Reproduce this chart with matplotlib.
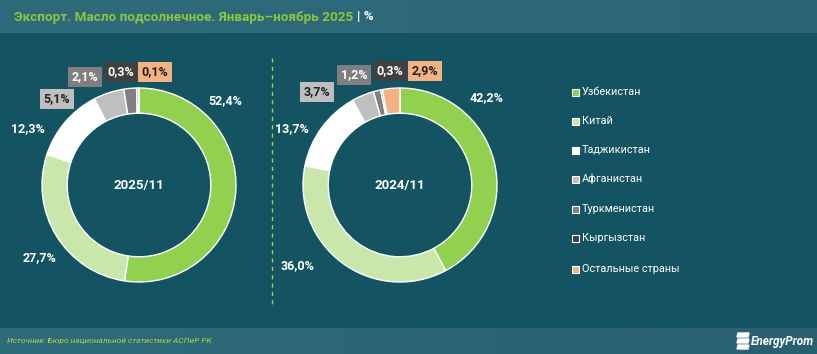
import matplotlib.pyplot as plt
from matplotlib.patches import Rectangle, Polygon
from matplotlib.colors import LinearSegmentedColormap
import numpy as np

# data
countries = ['Узбекистан', 'Китай', 'Таджикистан', 'Афганистан',
             'Туркменистан', 'Кыргызстан', 'Остальные страны']
share_2025 = [52.4, 27.7, 12.3, 5.1, 2.1, 0.3, 0.1]
share_2024 = [42.2, 36.0, 13.7, 3.7, 1.2, 0.3, 2.9]
period_2025 = '2025/11'
period_2024 = '2024/11'
colors = ['#92D050', '#C9E7AB', '#FFFFFF', '#BFBFBF', '#7F7F7F', '#404040', '#F4B183']
box_text = ['white', 'white', 'white', '#222222', 'white', 'white', '#222222']

bg = '#145462'
plt.rcParams['font.family'] = ['Roboto', 'DejaVu Sans']

fig = plt.figure(figsize=(8.17, 3.54), dpi=100)
fig.patch.set_facecolor(bg)
ax = fig.add_axes([0, 0, 1, 1])
ax.set_facecolor(bg)

W, H = 817, 354


def py(y):
    # pixel row (top down) -> data y
    return H - y


# title and footer bars
grad = np.linspace(0, 1, 200).reshape(1, -1)
cm_bar = LinearSegmentedColormap.from_list('bar', ['#2F6C7B', '#2B6675'])
cm_foot = LinearSegmentedColormap.from_list('foot', ['#2E6C7C', '#29606F'])
ax.imshow(grad, extent=(0, W, py(33), py(0)), cmap=cm_bar, aspect='auto', zorder=0)
ax.imshow(grad, extent=(0, W, py(354), py(328)), cmap=cm_foot, aspect='auto', zorder=0)

title = ax.text(14, py(17), 'Экспорт. Масло подсолнечное. Январь–ноябрь 2025', color='#8CC63F',
                fontsize=9.7, fontweight='bold', va='center', ha='left')
ax.annotate('| %', xy=(1, 0.5), xycoords=title, xytext=(3, 0), textcoords='offset points',
            color='white', fontsize=9.7, fontweight='bold', va='center', ha='left')

ax.text(7, py(341), 'Источник: Бюро национальной статистики АСПиР РК', color='#B0D24A',
        fontsize=6.0, fontstyle='italic', va='center', ha='left')

# logo
for k in range(3):
    y0 = 333 + k * 6
    ax.add_patch(Polygon([(738, py(y0)), (749, py(y0)), (748, py(y0 + 4)), (737, py(y0 + 4))],
                         closed=True, color='white', zorder=3))
ax.text(751, py(342), 'EnergyProm', color='white', fontsize=8.5, fontweight='bold',
        fontstyle='italic', va='center', ha='left')

# dashed divider
ax.plot([272, 272], [py(58), py(305)], color='#A8D04A', lw=1, ls=(0, (3, 3)))

R = 97
ring = 0.26


def donut(values, cx, cy, label, pos):
    ax.pie(values, colors=colors, center=(cx, py(cy)), radius=R, startangle=90,
           counterclock=False,
           wedgeprops=dict(width=R * ring, edgecolor='white', linewidth=1))
    ax.text(cx, py(cy), label, color='white', fontsize=9.5, fontweight='bold',
            ha='center', va='center')
    for i, v in enumerate(values):
        x, y, boxed = pos[i]
        txt = f'{v:.1f}%'.replace('.', ',')
        if boxed:
            ax.text(x, py(y), txt, color=box_text[i], fontsize=9, fontweight='bold',
                    ha='center', va='center',
                    bbox=dict(boxstyle='square,pad=0.3', fc=colors[i], ec='none'))
        else:
            ax.text(x, py(y), txt, color='white', fontsize=9, fontweight='bold',
                    ha='center', va='center')


pos_2025 = [(225, 101, False), (40, 258, False), (28, 129, False), (57, 99, True),
            (85, 77, True), (121, 72, True), (155, 72, True)]
pos_2024 = [(487, 98, False), (298, 266, False), (292, 129, False), (317, 92, True),
            (354, 75, True), (390, 71, True), (425, 71, True)]

donut(share_2025, 139, 185, period_2025, pos_2025)
donut(share_2024, 400, 185, period_2024, pos_2024)

# legend
legend_y = [92, 121, 150, 179, 209, 238, 269]
for c, name, ly in zip(colors, countries, legend_y):
    ax.add_patch(Rectangle((572, py(ly) - 3.5), 7, 7, fc=c, ec='white', lw=0.8, zorder=3))
    ax.text(582, py(ly), name, color='white', fontsize=7.8, va='center', ha='left')

ax.set_xlim(0, W)
ax.set_ylim(0, H)
ax.set_aspect('auto')
ax.axis('off')

fig.savefig('out.png', dpi=100, facecolor=bg)
